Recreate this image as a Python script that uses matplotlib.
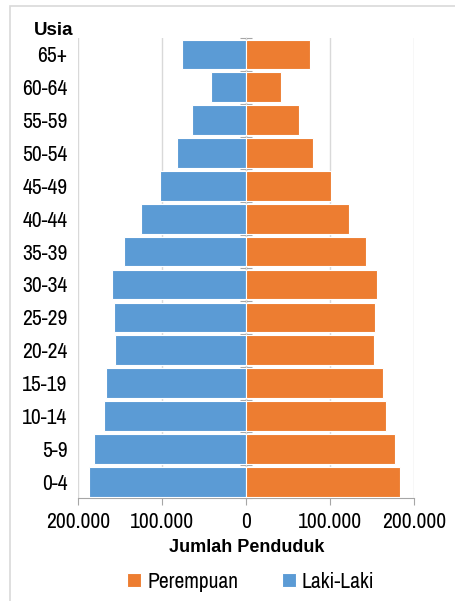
import matplotlib.pyplot as plt
from matplotlib.patches import Rectangle
from matplotlib.ticker import FuncFormatter

plt.rcParams['font.family'] = ['Archivo Narrow', 'Liberation Sans', 'DejaVu Sans']
bold_font = ['Liberation Sans', 'DejaVu Sans']

# kelompok umur, dari bawah ke atas
usia = ['0-4', '5-9', '10-14', '15-19', '20-24', '25-29', '30-34',
        '35-39', '40-44', '45-49', '50-54', '55-59', '60-64', '65+']
laki = [187700, 181000, 169400, 167100, 156000, 157500, 160000,
        145600, 125000, 102800, 82100, 64700, 42000, 77000]
perempuan = [183000, 177400, 165900, 163100, 152000, 153600, 156000,
             142100, 122200, 100800, 79800, 63100, 41700, 75400]
xticks = [-200000, -100000, 0, 100000, 200000]

blue = '#5B9BD5'
orange = '#ED7D31'
grid_c = '#D9D9D9'
axis_c = '#A6A6A6'

fig = plt.figure(figsize=(4.56, 6.01), dpi=100)
ax = fig.add_axes([0.172, 0.171, 0.7366, 0.766])

y = list(range(len(usia)))
ax.barh(y, [-v for v in laki], height=0.9, color=blue, edgecolor='white',
        linewidth=0.8, label='Laki-Laki', zorder=3)
ax.barh(y, perempuan, height=0.9, color=orange, edgecolor='white',
        linewidth=0.8, label='Perempuan', zorder=3)

ax.set_xlim(-200000, 200000)
ax.set_ylim(-0.5, len(usia) - 0.5)
ax.set_xticks(xticks)
ax.xaxis.set_major_formatter(FuncFormatter(lambda v, p: f'{abs(int(v)):,}'.replace(',', '.')))
ax.set_yticks(y)
ax.set_yticklabels(usia)
ax.tick_params(axis='y', length=0, pad=8, labelsize=15.5)
ax.tick_params(axis='x', length=5, color=axis_c, labelsize=15.5, pad=5)

for s in ['top', 'right', 'left']:
    ax.spines[s].set_visible(False)
ax.spines['bottom'].set_color(axis_c)
ax.grid(axis='x', color=grid_c, linewidth=1, zorder=0)

# sumbu tengah dengan tanda batas kategori
sec = ax.secondary_yaxis(0.5)
sec.spines['left'].set_color(axis_c)
sec.set_yticks([i - 0.5 for i in range(len(usia) + 1)])
sec.set_yticklabels([])
sec.tick_params(axis='y', direction='inout', length=8, color=axis_c)

ax.set_xlabel('Jumlah Penduduk', fontsize=13, fontweight='bold',
              family=bold_font, labelpad=5)
ax.text(-0.016, 1.0065, 'Usia', transform=ax.transAxes, ha='right', va='baseline',
        fontsize=13.5, fontweight='bold', family=bold_font)

h, l = ax.get_legend_handles_labels()
fig.legend(h[::-1], l[::-1], loc='center', bbox_to_anchor=(0.55, 0.032), ncol=2,
           frameon=False, fontsize=15.5, handlelength=0.65, handleheight=0.65,
           columnspacing=2.0, handletextpad=0.3)

fig.patches.append(Rectangle((10 / 456, -0.1), 1.2, 1 - 6 / 601 + 0.1,
                             transform=fig.transFigure, fill=False,
                             edgecolor=grid_c, linewidth=1.2))

fig.savefig('out.png', dpi=100)
